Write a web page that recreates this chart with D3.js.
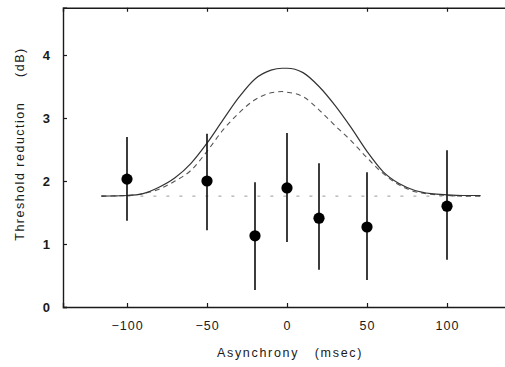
<!DOCTYPE html>
<html><head><meta charset="utf-8">
<script src="https://cdn.jsdelivr.net/npm/d3@7"></script>
<style>body{margin:0;background:#fff}svg{display:block}</style>
</head><body>
<script>
// Data
const asynchrony = [-100, -50, -20, 0, 20, 50, 100];
const meanReduction = [2.03, 2.0, 1.13, 1.89, 1.41, 1.27, 1.60];
const errLow = [1.37, 1.22, 0.27, 1.03, 0.59, 0.43, 0.75];
const errHigh = [2.70, 2.75, 1.98, 2.76, 2.28, 2.14, 2.49];

const curveX = [-116, -100, -90, -80, -70, -60, -50, -40, -30, -20, -10, -3, 0, 10, 20, 30, 40, 50, 60, 70, 80, 90, 100, 110, 121];
const solidY = [1.76, 1.77, 1.80, 1.90, 2.05, 2.28, 2.60, 2.97, 3.33, 3.62, 3.76, 3.79, 3.79, 3.72, 3.50, 3.20, 2.85, 2.47, 2.15, 1.96, 1.85, 1.80, 1.78, 1.77, 1.77];
const dashedY = [1.76, 1.77, 1.80, 1.87, 2.00, 2.17, 2.47, 2.81, 3.08, 3.29, 3.40, 3.42, 3.41, 3.34, 3.13, 2.88, 2.64, 2.37, 2.12, 1.94, 1.83, 1.79, 1.77, 1.76, 1.76];
const baselineX = [-116, 121];
const baselineY = [1.76, 1.76];

const xTicks = [-100, -50, 0, 50, 100];
const yTicks = [0, 1, 2, 3, 4];

const W = 505, H = 367;
const svg = d3.select("body").append("svg").attr("width", W).attr("height", H);

const x = d3.scaleLinear().domain([-140, 140]).range([63, 511]);
const y = d3.scaleLinear().domain([0, 4.75]).range([307, 7.75]);

const ink = "#1a1a1a";
const font = "Liberation Sans, Arial, sans-serif";

const gx = svg.append("g").attr("transform", `translate(0,${y(0)})`)
  .call(d3.axisBottom(x).tickValues(xTicks).tickSize(-4).tickPadding(14)
    .tickFormat(d => d < 0 ? "\u2212" + Math.abs(d) : d));
const gxt = svg.append("g").attr("transform", `translate(0,${y(4.75)})`)
  .call(d3.axisTop(x).tickValues(xTicks).tickSize(-4).tickFormat(""));
const gy = svg.append("g").attr("transform", `translate(${x(-140)},0)`)
  .call(d3.axisLeft(y).tickValues(yTicks).tickSize(-4).tickPadding(12).tickFormat(d3.format("d")));

[gx, gxt, gy].forEach(g => {
  g.select(".domain").attr("stroke", ink).attr("stroke-width", 1.4);
  g.selectAll(".tick line").attr("stroke", ink).attr("stroke-width", 1.2);
  g.selectAll("text").attr("fill", ink).style("font-family", font)
    .style("font-size", "12.5px").style("letter-spacing", "1px");
});
gy.selectAll("text").style("font-weight", "bold").style("font-size", "13px");

// baseline dotted
svg.append("path")
  .datum(d3.zip(baselineX, baselineY))
  .attr("d", d3.line().x(d => x(d[0])).y(d => y(d[1])))
  .attr("fill", "none").attr("stroke", "#999").attr("stroke-width", 1)
  .attr("stroke-dasharray", "3,10");

const line = d3.line().x(d => x(d[0])).y(d => y(d[1])).curve(d3.curveMonotoneX);
svg.append("path").datum(d3.zip(curveX, dashedY)).attr("d", line)
  .attr("fill", "none").attr("stroke", "#555").attr("stroke-width", 1.1)
  .attr("stroke-dasharray", "5,4");
svg.append("path").datum(d3.zip(curveX, solidY)).attr("d", line)
  .attr("fill", "none").attr("stroke", "#333").attr("stroke-width", 1.2);

svg.append("g").selectAll("line").data(asynchrony).join("line")
  .attr("x1", d => x(d)).attr("x2", d => x(d))
  .attr("y1", (d, i) => y(errLow[i])).attr("y2", (d, i) => y(errHigh[i]))
  .attr("stroke", ink).attr("stroke-width", 1.7);

svg.append("g").selectAll("circle").data(asynchrony).join("circle")
  .attr("cx", d => x(d)).attr("cy", (d, i) => y(meanReduction[i]))
  .attr("r", 5.6).attr("fill", "#000");

svg.append("text").attr("x", 290).attr("y", 357).attr("text-anchor", "middle")
  .style("font-family", font).style("font-size", "12.5px")
  .style("letter-spacing", "1.7px").attr("fill", ink).attr("xml:space", "preserve")
  .text("Asynchrony   (msec)");
svg.append("text").attr("transform", "translate(24,144) rotate(-90)").attr("text-anchor", "middle")
  .style("font-family", font).style("font-size", "12.5px")
  .style("letter-spacing", "1.5px").attr("fill", ink).attr("xml:space", "preserve")
  .text("Threshold reduction     (dB)");
</script>
</body></html>
